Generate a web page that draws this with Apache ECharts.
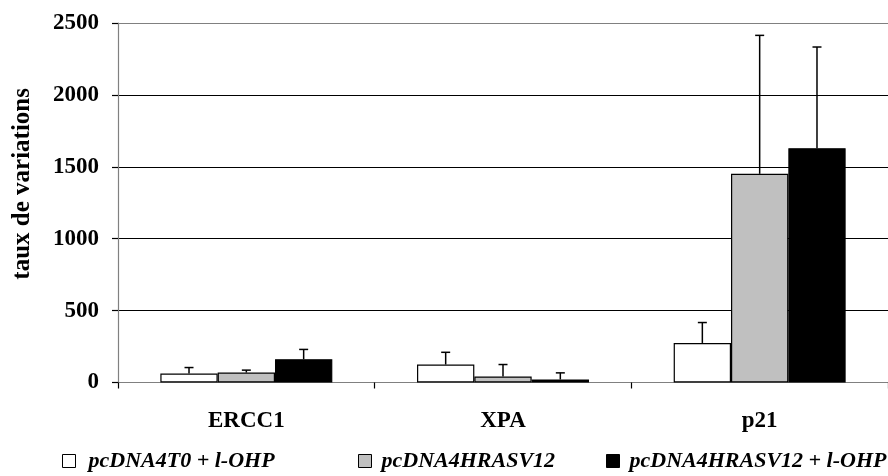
<!DOCTYPE html>
<html>
<head>
<meta charset="utf-8">
<script src="https://cdn.jsdelivr.net/npm/echarts@6/dist/echarts.min.js"></script>
<style>
  html, body { margin: 0; padding: 0; background: #fff; }
  #chart { width: 888px; height: 476px; }
</style>
</head>
<body>
<div id="chart"></div>
<script>
// Gene expression variation rates per construct
const categories = ['ERCC1', 'XPA', 'p21'];
const seriesNames = ['pcDNA4T0 + l-OHP', 'pcDNA4HRASV12', 'pcDNA4HRASV12 + l-OHP'];
const valuesT0 = [62, 125, 275];
const valuesHras = [69, 42, 1451];
const valuesHrasOhp = [162, 21, 1629];
// upper standard deviations
const errT0 = [42, 85, 142];
const errHras = [17, 83, 963];
const errHrasOhp = [68, 46, 704];
const yTicks = [0, 500, 1000, 1500, 2000, 2500];

const FONT = '"Liberation Serif", "Times New Roman", serif';
const CAT_GAP = 0.33;

const chart = echarts.init(document.getElementById('chart'));

const barValues = [valuesT0, valuesHras, valuesHrasOhp];
const errValues = [errT0, errHras, errHrasOhp];
const fills = ['#ffffff', '#c0c0c0', '#000000'];

const bars = barValues.map((vals, i) => ({
  name: seriesNames[i],
  type: 'bar',
  data: vals,
  barGap: '0%',
  barCategoryGap: (CAT_GAP * 100) + '%',
  itemStyle: { color: fills[i], borderColor: '#000', borderWidth: 1.2 },
  emphasis: { disabled: true },
  silent: true,
  z: 2
}));

// upward error bars, one custom series per bar series
const errSeries = errValues.map((errs, s) => ({
  type: 'custom',
  silent: true,
  z: 5,
  encode: { x: 0, y: 1 },
  data: errs.map((e, c) => [c, barValues[s][c], e]),
  renderItem: function (params, api) {
    const c = api.value(0);
    const v = api.value(1);
    const e = api.value(2);
    const base = api.coord([c, v]);
    const tip = api.coord([c, v + e]);
    const band = api.size([1, 0])[0];
    const bw = band * (1 - CAT_GAP) / 3;
    const x = base[0] + (s - 1) * bw;
    const style = { stroke: '#000', lineWidth: 1.5 };
    return {
      type: 'group',
      children: [
        { type: 'line', shape: { x1: x, y1: base[1], x2: x, y2: tip[1] }, style: style },
        { type: 'line', shape: { x1: x - 4.5, y1: tip[1], x2: x + 4.5, y2: tip[1] }, style: style }
      ]
    };
  }
}));

const legendLefts = [62, 358, 606];
const legendTextGaps = [8, 5, 5];
const legends = seriesNames.map((n, i) => ({
  data: [n],
  left: legendLefts[i],
  top: 450,
  padding: 0,
  icon: 'rect',
  itemWidth: 13,
  itemHeight: 13,
  selectedMode: false,
  itemStyle: { borderColor: '#000', borderWidth: 1 },
  textStyle: {
    fontFamily: FONT, fontSize: 22, fontWeight: 'bold', fontStyle: 'italic',
    color: '#000', padding: [0, 0, 0, legendTextGaps[i]]
  }
}));

chart.setOption({
  animation: false,
  backgroundColor: '#fff',
  grid: { left: 118, right: 0, top: 23, bottom: 93.5 },
  legend: legends,
  graphic: [{
    type: 'text',
    left: 10,
    top: 88,
    rotation: Math.PI / 2,
    style: {
      text: 'taux de variations',
      fontFamily: FONT, fontSize: 25, fontWeight: 'bold', fill: '#000'
    }
  }],
  xAxis: {
    type: 'category',
    data: categories,
    axisLine: { lineStyle: { color: '#808080', width: 1.2 } },
    axisTick: { show: true, length: 6, lineStyle: { color: '#000', width: 1.2 } },
    axisLabel: {
      margin: 27, fontFamily: FONT, fontSize: 23, fontWeight: 'bold', color: '#000'
    }
  },
  yAxis: {
    type: 'value',
    min: yTicks[0],
    max: yTicks[yTicks.length - 1],
    interval: yTicks[1] - yTicks[0],
    axisLine: { show: true, lineStyle: { color: '#808080', width: 1.2 } },
    axisTick: { show: true, length: 6, lineStyle: { color: '#000', width: 1.2 } },
    axisLabel: {
      margin: 19, fontFamily: FONT, fontSize: 23, fontWeight: 'bold', color: '#000',
      formatter: function (v) { return String(v); }
    },
    splitLine: {
      show: true,
      lineStyle: { color: ['#808080', '#000', '#000', '#000', '#000', '#808080'], width: 1.2 }
    }
  },
  series: bars.concat(errSeries)
});
</script>
</body>
</html>
